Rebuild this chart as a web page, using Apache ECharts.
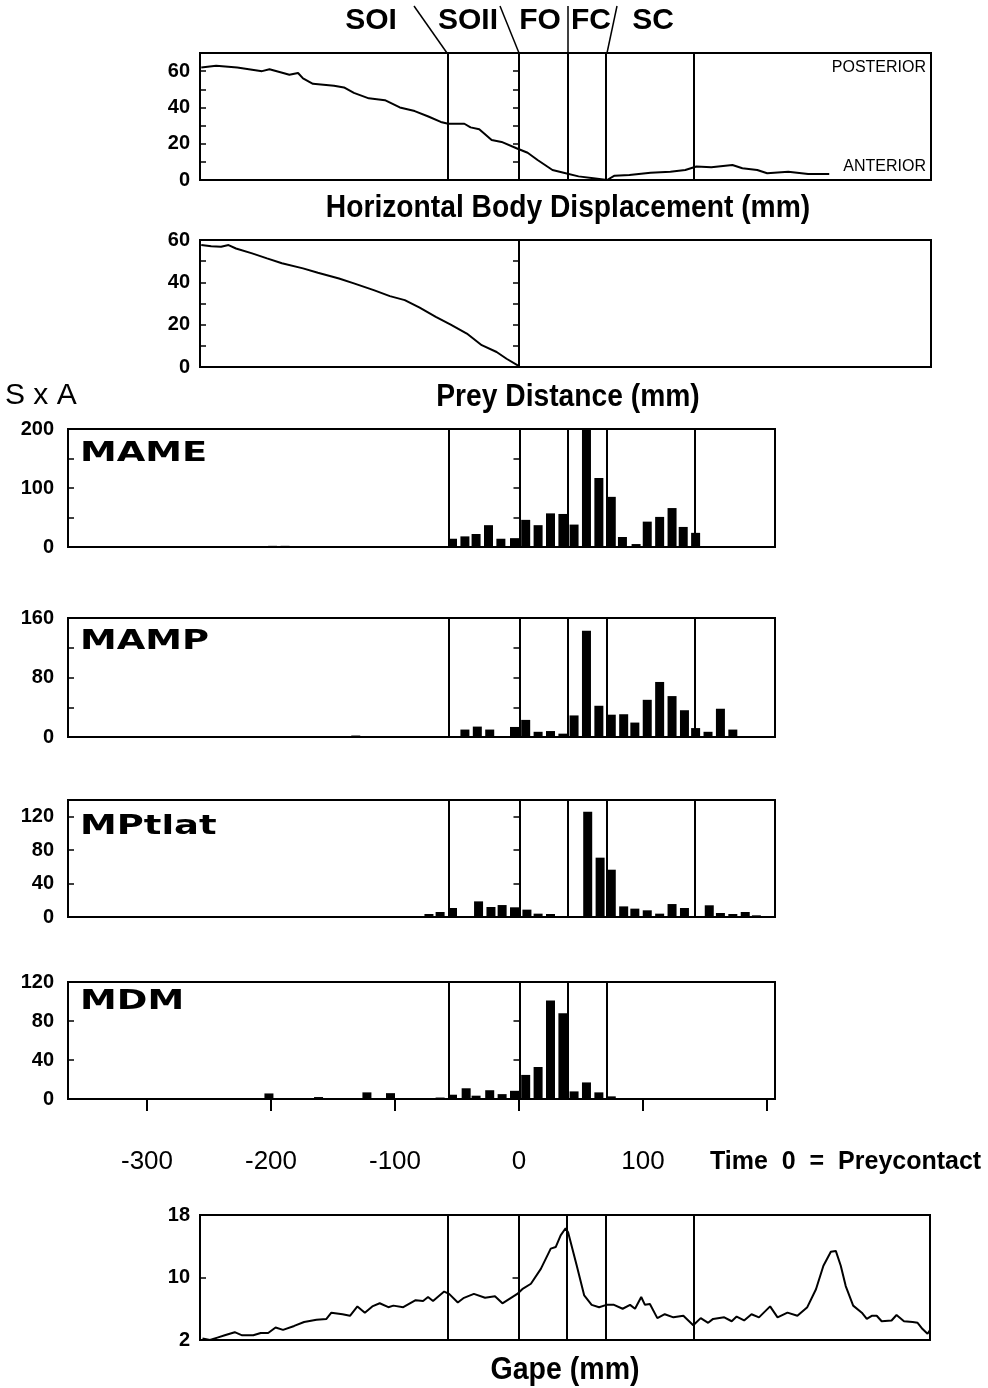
<!DOCTYPE html>
<html>
<head>
<meta charset="utf-8">
<script src="https://cdn.jsdelivr.net/npm/echarts@6/dist/echarts.min.js"></script>
<style>
  html, body { margin: 0; padding: 0; background: #fff; }
  #container { width: 988px; height: 1388px; }
</style>
</head>
<body>
<div id="container"></div>
<script>
// event times (ms): SOI, SOII/FO, FC, SC, end
const events = [-57, 0, 39, 70, 141];

// horizontal body displacement (mm)
const dispT = [-256, -244, -227, -207, -201, -190, -185, -178, -174, -166, -149, -141, -133, -121, -108,
  -96, -84, -73, -63, -57, -44, -39, -32, -22, -14, -2, 7, 15, 27, 36, 48, 60, 71, 77, 89,
  106, 122, 134, 143, 155, 172, 180, 192, 200, 217, 233, 250];
const dispV = [62, 63, 62, 60, 61, 59, 58, 59, 56, 53, 52, 51, 48, 45, 44,
  40, 38, 35, 32, 31, 31, 29, 28, 22, 21, 17.5, 15, 11, 5.5, 4, 2, 1, 0, 2.4, 2.8,
  4, 4.6, 5.5, 7.4, 7, 8.3, 6.5, 5.5, 3.7, 4.6, 3.3, 3.3];

// prey distance (mm)
const preyT = [-256, -248, -240, -234, -228, -215, -203, -191, -174, -162, -145, -133, -117, -104,
  -92, -80, -67, -55, -42, -30, -18, -10, -1, 0];
const preyV = [57.6, 57, 56.8, 57.6, 56, 53.7, 51.3, 49, 46.6, 44.5, 41.8, 39.5, 36.3, 33.5,
  31.6, 28, 23.7, 20, 15.8, 10.3, 7.1, 3.9, 0.8, 0];

// EMG S x A per bin
const mameT = [-199, -189, -135, -125, -54, -44, -35, -25, -15, -4, 5, 15, 25, 35, 44, 54, 64, 74, 83,
  94, 103, 113, 123, 132, 142];
const mameV = [2, 2, 1, 1, 14, 18, 22, 37, 14, 15, 46, 37, 57, 56, 38, 200, 117, 85, 17,
  5, 43, 51, 66, 34, 24];

const mampT = [-132, -44, -34, -24, -4, 5, 15, 25, 35, 44, 54, 64, 74, 84, 93, 103, 113, 123, 133,
  142, 152, 162, 172];
const mampV = [2, 10, 14, 10, 13.5, 23, 7, 8, 4.5, 29, 143, 42, 30, 30.6, 19.4, 50, 74, 55, 36,
  12, 7, 38, 10];

const mptlatT = [-73, -64, -54, -33, -23, -14, -4, 6, 15, 25, 55, 65, 74, 84, 93, 103, 113, 123, 133,
  153, 162, 172, 182, 191];
const mptlatV = [3.6, 6, 10.8, 18.7, 12, 14.3, 11.6, 8.8, 4, 3.6, 126, 71, 56.6, 12.7, 10, 8, 4, 15.5, 10.8,
  14, 4.8, 3.6, 6, 2];

const mdmT = [-202, -162, -152, -142, -123, -104, -74, -64, -54, -43, -35, -24, -14, -4, 5, 15, 25, 35,
  44, 54, 64, 74, 84, 113, 123];
const mdmV = [5.7, 2, 1, 1, 6.8, 6, 1, 1.5, 4.4, 11, 3.4, 9, 5, 8.4, 24.7, 32.8, 101, 88,
  7.8, 17, 6.8, 2.7, 1, 1, 1];

// gape (mm)
const gapeT = [-255, -249, -243, -237, -229, -223, -214, -208, -202, -196,
  -190, -181, -173, -163, -155, -151, -142, -136, -130, -124,
  -118, -112, -105, -101, -93, -83, -77, -73, -69, -60,
  -56, -49, -44, -36, -27, -19, -13, -7, -1, 3,
  10, 18, 26, 30, 34, 38, 40, 47, 53, 59,
  65, 71, 77, 84, 90, 94, 99, 102, 106, 112,
  118, 125, 133, 141, 147, 153, 157, 166, 172, 176,
  182, 188, 194, 203, 209, 217, 225, 233, 240, 246,
  252, 256, 260, 264, 270, 277, 281, 285, 289, 293,
  301, 305, 311, 318, 322, 326, 330, 333];
const gapeV = [2.2, 2, 2.3, 2.6, 3, 2.6, 2.6, 2.9, 2.9, 3.6,
  3.3, 3.8, 4.3, 4.6, 4.7, 5.5, 5.3, 5.1, 6.3, 5.5,
  6.3, 6.7, 6.2, 6.4, 6.2, 7.1, 7, 7.5, 7, 8.2,
  7.9, 6.8, 7.4, 7.9, 7.4, 7.6, 6.7, 7.3, 7.9, 8.5,
  9.2, 11.1, 13.7, 13.9, 15.4, 16.3, 15.8, 11.5, 7.7, 6.5,
  6.2, 6.5, 6.5, 6, 6.5, 6, 7.5, 6.5, 6.6, 4.8,
  5.3, 4.9, 5.1, 3.9, 4.8, 4.2, 4.7, 4.9, 4.4, 5,
  4.5, 5.3, 4.9, 6.3, 4.9, 5.5, 5.1, 6.2, 8.5, 11.5,
  13.3, 13.4, 11.5, 8.9, 6.4, 5.5, 4.7, 5.1, 5.1, 4.4,
  4.5, 5.2, 4.4, 4.3, 4.2, 3.4, 2.8, 3.5];

const muscles = ["MAME", "MAMP", "MPtlat", "MDM"];
const timeTicks = [-300, -200, -100, 0, 100, 200];

const zip = (a, b) => a.map((t, i) => [t, b[i]]);
const FONT = "Liberation Sans, Arial, sans-serif";

// panel boxes: [left, top, width, height, xmin, xmax]
const panels = [
  [200, 53, 731, 127, -257, 332],   // displacement
  [200, 240, 731, 127, -257, 332],  // prey
  [68, 429, 707, 118, -364, 206],   // MAME
  [68, 618, 707, 119, -364, 206],   // MAMP
  [68, 800, 707, 117, -364, 206],   // MPtlat
  [68, 982, 707, 117, -364, 206],   // MDM
  [200, 1215, 730, 125, -257, 332], // gape
];
// y scales: [min, max, tick step, label step]
const yScales = [
  [0, 70, 10, 20], [0, 60, 10, 20], [0, 200, 50, 100], [0, 160, 40, 80],
  [0, 140, 40, 40], [0, 120, 40, 40], [2, 18, 8, 8],
];

const grids = panels.map((p) => ({
  left: p[0], top: p[1], width: p[2], height: p[3],
  show: true, borderColor: "#000", borderWidth: 2, containLabel: false,
}));
grids.push({ left: 147, top: 1098, width: 620, height: 1 });

const xAxes = panels.map((p, i) => ({
  type: "value", gridIndex: i, min: p[4], max: p[5],
  axisLine: { show: false }, axisTick: { show: false },
  axisLabel: { show: false }, splitLine: { show: false },
}));
xAxes.push({
  type: "value", gridIndex: 7, min: timeTicks[0], max: timeTicks[timeTicks.length - 1], interval: 100,
  axisLine: { show: false }, splitLine: { show: false },
  axisTick: { show: true, length: 12, lineStyle: { color: "#000", width: 2 } },
  axisLabel: {
    margin: 50, color: "#000", fontSize: 26, fontFamily: FONT,
    formatter: (v) => (v === 200 ? "" : String(v)),
  },
});

const yAxes = [];
yScales.forEach((s, i) => {
  const [mn, mx, step, lab] = s;
  const tick = { lineStyle: { color: "#000", width: 1.5 }, length: 6 };
  yAxes.push({
    type: "value", gridIndex: i, position: "left", min: mn, max: mx, interval: step,
    axisLine: { show: false }, splitLine: { show: false },
    axisTick: { show: true, ...tick },
    axisLabel: {
      margin: i >= 2 && i <= 5 ? 14 : 10, color: "#000", fontWeight: "bold",
      fontSize: 20, fontFamily: FONT,
      formatter: (v) => ((v - mn) % lab === 0 ? String(v) : ""),
    },
  });
  yAxes.push({
    type: "value", gridIndex: i, position: "left", offset: 0, min: mn, max: mx, interval: step,
    axisLine: { show: false }, splitLine: { show: false },
    axisTick: { show: true, inside: true, ...tick },
    axisLabel: { show: false },
  });
});
yAxes.push({ type: "value", gridIndex: 7, min: 0, max: 1, show: false });

const eventLines = (list) => ({
  silent: true, symbol: ["none", "none"], animation: false,
  label: { show: false },
  lineStyle: { color: "#000", width: 2, type: "solid" },
  data: list.map((v) => ({ xAxis: v })),
});

const lineSeries = (i, t, v, evs) => ({
  type: "line", xAxisIndex: i, yAxisIndex: i * 2, data: zip(t, v),
  showSymbol: false, symbol: "none",
  lineStyle: { color: "#000", width: 2 },
  markLine: eventLines(evs),
});
const barSeries = (i, t, v, evs) => ({
  type: "bar", xAxisIndex: i, yAxisIndex: i * 2, data: zip(t, v),
  barWidth: 9, itemStyle: { color: "#000" },
  markLine: eventLines(evs),
});

const series = [
  lineSeries(0, dispT, dispV, events),
  lineSeries(1, preyT, preyV, [0]),
  barSeries(2, mameT, mameV, events),
  barSeries(3, mampT, mampV, events),
  barSeries(4, mptlatT, mptlatV, events),
  barSeries(5, mdmT, mdmV, events.slice(0, 4)),
  lineSeries(6, gapeT, gapeV, events),
];

const txt = (x, y, text, font, opts = {}) => ({
  type: "text", x, y, silent: true,
  scaleX: opts.scaleX || 1,
  style: {
    text, font, fill: "#000",
    align: opts.align || "center", verticalAlign: "middle",
  },
});
const seg = (x1, y1, x2, y2) => ({
  type: "line", silent: true,
  shape: { x1, y1, x2, y2 },
  style: { stroke: "#000", lineWidth: 1.5 },
});

const muscleY = [454, 642, 827, 1002];
const graphic = [
  txt(371, 21, "SOI", "bold 30px " + FONT),
  txt(468, 21, "SOII", "bold 30px " + FONT),
  txt(540, 21, "FO", "bold 30px " + FONT),
  txt(591, 21, "FC", "bold 30px " + FONT),
  txt(653, 21, "SC", "bold 30px " + FONT),
  seg(414, 6, 447, 53), seg(500, 6, 519, 53), seg(568, 6, 568, 53), seg(617, 6, 607, 53),
  txt(926, 68, "POSTERIOR", "16px " + FONT, { align: "right" }),
  txt(926, 167, "ANTERIOR", "16px " + FONT, { align: "right" }),
  txt(568, 208, "Horizontal Body Displacement (mm)", "bold 31px " + FONT, { scaleX: 0.91 }),
  txt(568, 397, "Prey Distance (mm)", "bold 31px " + FONT, { scaleX: 0.91 }),
  txt(5, 396, "S x A", "30px " + FONT, { align: "left" }),
  txt(710, 1162, "Time  0  =  Preycontact", "bold 25px " + FONT, { align: "left", scaleX: 1.0 }),
  txt(565, 1370, "Gape (mm)", "bold 31px " + FONT, { scaleX: 0.92 }),
  ...muscles.map((m, i) => txt(80, muscleY[i], m, "bold 26px DejaVu Sans", { align: "left", scaleX: 1.42 })),
];

const dom = document.getElementById("container");
const myChart = echarts.init(dom, null, { renderer: "canvas" });
myChart.setOption({
  animation: false,
  backgroundColor: "#FFFFFF",
  grid: grids,
  xAxis: xAxes,
  yAxis: yAxes,
  series,
  graphic,
});
</script>
</body>
</html>
